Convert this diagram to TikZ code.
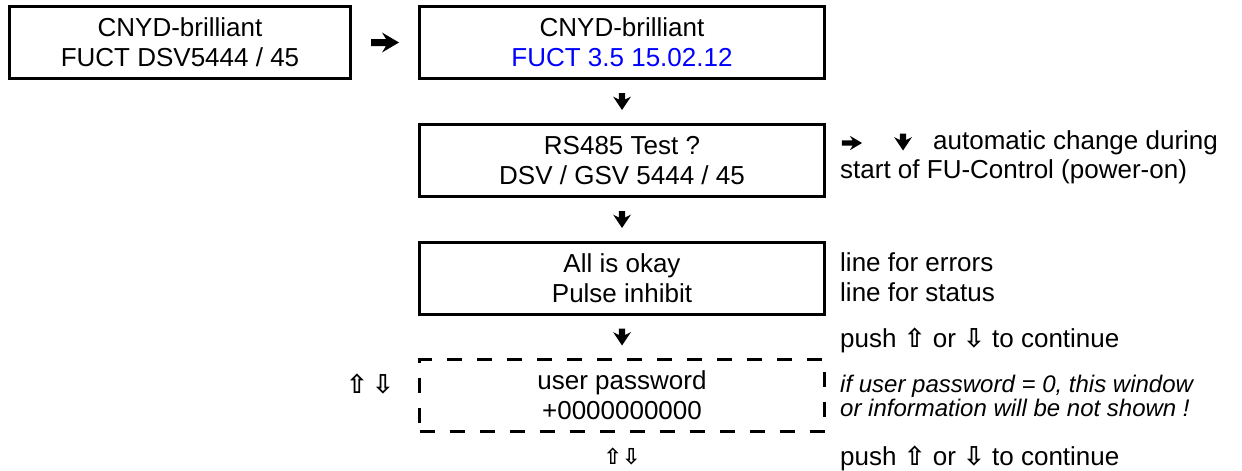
\documentclass[tikz,border=0pt]{standalone}
\usepackage{fontspec}
\setmainfont{Liberation Sans}
\newfontfamily\symf{DejaVu Sans}
\usetikzlibrary{calc}
\definecolor{fwblue}{RGB}{0,0,255}
\tikzset{
  disp/.style={draw, line width=3.5pt, minimum width=405pt, minimum height=72pt, align=center, inner sep=0pt, font=\fontsize{26}{30}\selectfont},
  dispdash/.style={disp, dash pattern=on 15pt off 15pt},
  note/.style={anchor=west, align=left, inner sep=0pt, font=\fontsize{26}{30}\selectfont},
  heavyright/.pic={\fill (-14,-3.5) -- (1,-3.5) -- (-3,-10) -- (14,0) -- (-3,10) -- (1,3.5) -- (-14,3.5) -- cycle;},
  heavydown/.pic={\fill (-3.2,-8.5) -- (3.2,-8.5) -- (3.2,-2) -- (9,-5) -- (0,8.5) -- (-9,-5) -- (-3.2,-2) -- cycle;},
}
\newcommand{\uarr}{{\symf\bfseries ⇧}}
\newcommand{\darr}{{\symf\bfseries ⇩}}
\begin{document}
\begin{tikzpicture}[x=1pt,y=-1pt]
\useasboundingbox (0,0) rectangle (1242,471);
\node[disp, minimum width=341pt] (b1) at (180,42.5) {CNYD-brilliant\\FUCT DSV5444 / 45};
\node[disp] (b2) at (622,42.5) {CNYD-brilliant\\\textcolor{fwblue}{FUCT 3.5 15.02.12}};
\node[disp] (b3) at (622,160.5) {RS485 Test ?\\DSV / GSV 5444 / 45};
\node[disp] (b4) at (622,278.5) {All is okay\\Pulse inhibit};
\node[dispdash] (b5) at (622,395.5) {user password\\+0000000000};
\coordinate (a1) at ($(b1.east)!0.5!(b2.west)$);
\coordinate (a2) at ($(b2.south)!0.5!(b3.north)$);
\coordinate (a3) at ($(b3.south)!0.5!(b4.north)$);
\coordinate (a4) at ($(b4.south)!0.5!(b5.north)$);
\pic at (a1) {heavyright};
\pic at (a2) {heavydown};
\pic at (a3) {heavydown};
\pic at (a4) {heavydown};
\node[inner sep=0pt, font=\fontsize{22}{22}\selectfont] (a5) at (622,456) {\uarr\darr};
\node[inner sep=0pt, font=\fontsize{26}{26}\selectfont] (a6) at (370,384) {\uarr\,\darr};
\coordinate (r1) at (852,143);
\coordinate (r2) at (903,142);
\pic[scale=0.72] at (r1) {heavyright};
\pic at (r2) {heavydown};
\node[note] (n1) at (933,143) {automatic change during};
\node[note] (n1b) at (840,172) {start of FU-Control (power-on)};
\node[note] (n2) at (840,277) {line for errors\\line for status};
\node[note] (n3) at (840,340) {push \uarr\ or \darr\ to continue};
\node[note, font=\itshape\fontsize{24}{24}\selectfont] (n4) at (840,396) {if user password = 0, this window\\or information will be not shown !};
\node[note] (n5) at (840,458) {push \uarr\ or \darr\ to continue};
\end{tikzpicture}
\end{document}
